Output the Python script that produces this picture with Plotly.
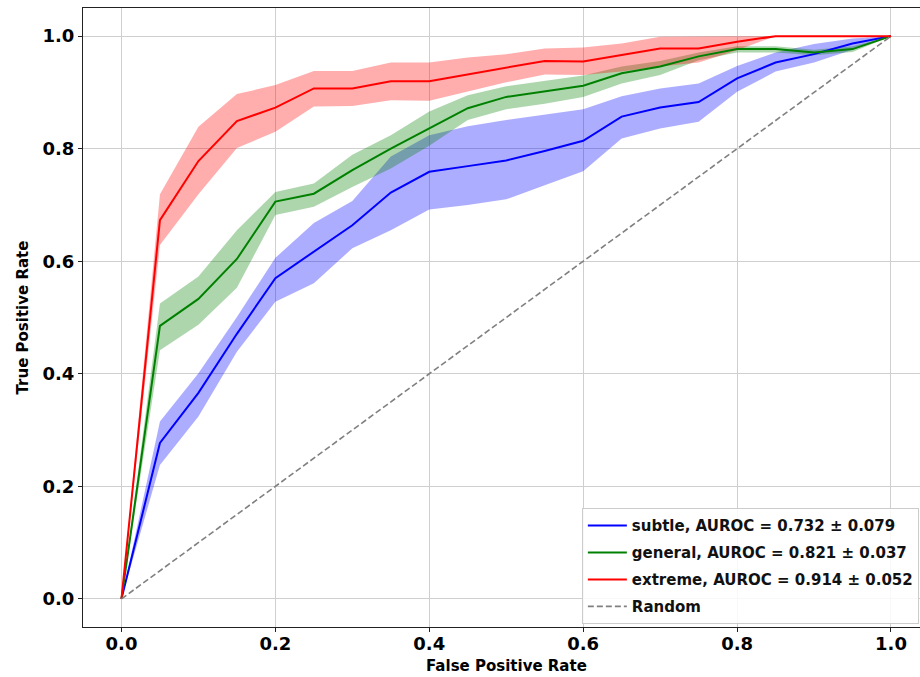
import plotly.graph_objects as go

fpr = [0.0, 0.05, 0.1, 0.15, 0.2, 0.25, 0.3, 0.35, 0.4, 0.45, 0.5,
       0.55, 0.6, 0.65, 0.7, 0.75, 0.8, 0.85, 0.9, 0.95, 1.0]

subtle_mean = [0, 0.277, 0.366, 0.471, 0.570, 0.617, 0.664, 0.722, 0.759, 0.769, 0.779,
               0.796, 0.814, 0.857, 0.873, 0.883, 0.925, 0.953, 0.968, 0.987, 1.0]
subtle_upper = [0, 0.315, 0.401, 0.501, 0.606, 0.668, 0.707, 0.786, 0.824, 0.840, 0.851,
                0.860, 0.870, 0.893, 0.907, 0.916, 0.947, 0.971, 0.986, 0.996, 1.0]
subtle_lower = [0, 0.238, 0.324, 0.439, 0.528, 0.561, 0.623, 0.655, 0.692, 0.700, 0.710,
                0.735, 0.760, 0.818, 0.836, 0.848, 0.901, 0.937, 0.953, 0.976, 1.0]

general_mean = [0, 0.485, 0.533, 0.604, 0.706, 0.720, 0.762, 0.800, 0.836, 0.872, 0.892,
                0.902, 0.912, 0.934, 0.946, 0.964, 0.977, 0.977, 0.971, 0.977, 1.0]
general_upper = [0, 0.525, 0.573, 0.655, 0.723, 0.738, 0.789, 0.824, 0.866, 0.895, 0.911,
                 0.921, 0.930, 0.946, 0.956, 0.971, 0.982, 0.982, 0.976, 0.982, 1.0]
general_lower = [0, 0.442, 0.487, 0.553, 0.682, 0.697, 0.732, 0.765, 0.805, 0.851, 0.870,
                 0.880, 0.892, 0.916, 0.931, 0.957, 0.971, 0.971, 0.966, 0.972, 1.0]

extreme_mean = [0, 0.673, 0.778, 0.849, 0.873, 0.907, 0.907, 0.920, 0.920, 0.932, 0.944,
                0.956, 0.955, 0.966, 0.978, 0.978, 0.990, 1.0, 1.0, 1.0, 1.0]
extreme_upper = [0, 0.719, 0.839, 0.897, 0.913, 0.938, 0.938, 0.953, 0.953, 0.962, 0.968,
                 0.978, 0.980, 0.987, 0.999, 1.0, 1.0, 1.0, 1.0, 1.0, 1.0]
extreme_lower = [0, 0.629, 0.719, 0.801, 0.830, 0.875, 0.876, 0.886, 0.885, 0.902, 0.918,
                 0.932, 0.931, 0.937, 0.946, 0.953, 0.975, 1.0, 1.0, 1.0, 1.0]

random_x = [0.0, 1.0]
random_y = [0.0, 1.0]

labels = ["subtle, AUROC = 0.732 ± 0.079",
          "general, AUROC = 0.821 ± 0.037",
          "extreme, AUROC = 0.914 ± 0.052"]
colors = ["#0000ff", "#008000", "#ff0000"]
fills = ["rgba(0,0,255,0.32)", "rgba(0,128,0,0.32)", "rgba(255,0,0,0.32)"]
means = [subtle_mean, general_mean, extreme_mean]
uppers = [subtle_upper, general_upper, extreme_upper]
lowers = [subtle_lower, general_lower, extreme_lower]

FONT = "DejaVu Sans"

fig = go.Figure()

for up, lo, fc in zip(uppers, lowers, fills):
    fig.add_trace(go.Scatter(
        x=fpr + fpr[::-1], y=up + lo[::-1],
        mode="lines", fill="toself", fillcolor=fc,
        line=dict(width=0, color=fc), showlegend=False, hoverinfo="skip"))

for i, (m, c, lab) in enumerate(zip(means, colors, labels)):
    fig.add_trace(go.Scatter(
        x=fpr, y=m, mode="lines", name=lab, legendgroup=f"g{i}",
        line=dict(color=c, width=2)))

fig.add_trace(go.Scatter(
    x=random_x, y=random_y, mode="lines", name="Random", legendgroup="g3",
    line=dict(color="#808080", width=1.6, dash="6px,3px")))

tickvals = [0.0, 0.2, 0.4, 0.6, 0.8, 1.0]
ticktext = ["0.0", "0.2", "0.4", "0.6", "0.8", "1.0"]

fig.update_layout(
    width=920, height=677,
    margin=dict(l=83, r=0, t=8, b=50),
    paper_bgcolor="white", plot_bgcolor="white",
    font=dict(family=FONT, color="black"),
    legend=dict(
        x=0.596, y=0.192, xanchor="left", yanchor="top",
        bgcolor="rgba(255,255,255,0.85)", bordercolor="#cccccc", borderwidth=1,
        font=dict(family=FONT, size=15, weight="bold", color="#111111"),
        tracegroupgap=4.5, itemwidth=39,
    ),
    xaxis=dict(
        range=[-0.05, 1.0377], tickvals=tickvals, ticktext=ticktext,
        showgrid=True, gridcolor="#cfcfcf", gridwidth=1, zeroline=False,
        showline=True, linecolor="#222222", linewidth=1.2, mirror=True,
        ticks="outside", ticklen=4, tickcolor="#222222", ticklabelstandoff=-4,
        tickfont=dict(family=FONT, size=18, weight="bold", color="black"),
    ),
    yaxis=dict(
        range=[-0.05, 1.05], tickvals=tickvals, ticktext=ticktext,
        showgrid=True, gridcolor="#cfcfcf", gridwidth=1, zeroline=False,
        showline=True, linecolor="#222222", linewidth=1.2, mirror=False,
        ticks="outside", ticklen=4, tickcolor="#222222",
        tickfont=dict(family=FONT, size=18, weight="bold", color="black"),
    ),
    annotations=[
        dict(text="False Positive Rate", xref="x", yref="paper", x=0.5, y=-0.063,
             xanchor="center", yanchor="middle", showarrow=False,
             font=dict(family=FONT, size=15, weight="bold", color="black")),
        dict(text="True Positive Rate", xref="paper", yref="y", x=-0.0717, y=0.5,
             xanchor="center", yanchor="middle", showarrow=False, textangle=-90,
             font=dict(family=FONT, size=15, weight="bold", color="black")),
    ],
)

fig.write_html("out.html")
